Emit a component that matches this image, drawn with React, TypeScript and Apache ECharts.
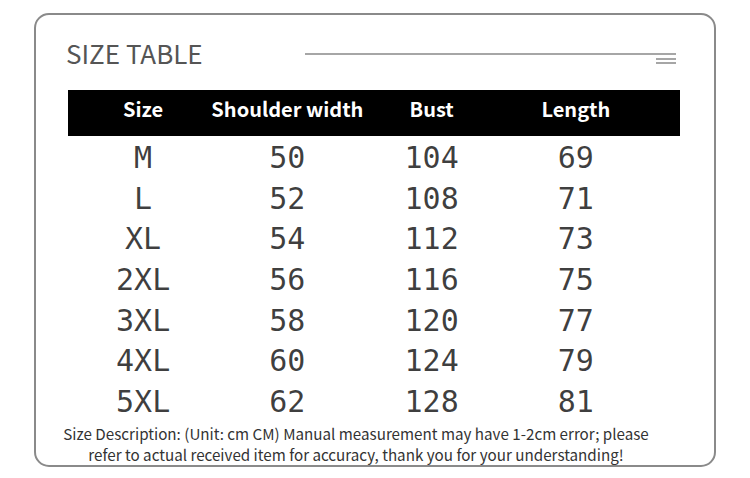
import React, { useEffect, useRef } from "react";
import * as echarts from "echarts";

const columns = ["Size", "Shoulder width", "Bust", "Length"];
const sizes = ["M", "L", "XL", "2XL", "3XL", "4XL", "5XL"];
const shoulder = [50, 52, 54, 56, 58, 60, 62];
const bust = [104, 108, 112, 116, 120, 124, 128];
const length = [69, 71, 73, 75, 77, 79, 81];
const title = "SIZE TABLE";
const note1 = "Size Description: (Unit: cm CM) Manual measurement may have 1-2cm error; please";
const note2 = "refer to actual received item for accuracy, thank you for your understanding!";

const CJK = '"Noto Sans CJK SC", "Noto Sans", sans-serif';
const MONO = '"DejaVu Sans Mono", monospace';

export default function App() {
  const ref = useRef<HTMLDivElement>(null);
  useEffect(() => {
    document.body.style.margin = "0";
    if (!ref.current) return;
    const chart = echarts.init(ref.current, undefined, { renderer: "svg" });
    const cols = [sizes, shoulder, bust, length];
    const data: any[] = [];
    sizes.forEach((_, r) => {
      cols.forEach((col, c) => {
        data.push([c, r, String(col[r])]);
      });
    });
    chart.setOption({
      animation: false,
      backgroundColor: "#ffffff",
      grid: { left: 71, right: 102, top: 137, bottom: 56 },
      xAxis: {
        type: "category",
        data: columns,
        position: "top",
        z: 10,
        axisLine: { show: false },
        axisTick: { show: false },
        splitLine: { show: false },
        axisLabel: {
          color: "#ffffff",
          fontFamily: CJK,
          fontWeight: "bold",
          fontSize: 20,
          margin: 29,
          verticalAlign: "middle",
          interval: 0,
        },
      },
      yAxis: {
        type: "category",
        data: sizes,
        inverse: true,
        show: false,
      },
      series: [
        {
          type: "scatter",
          symbolSize: 0,
          data,
          label: {
            show: true,
            position: "inside",
            formatter: (p: any) => p.value[2],
            color: "#0a0a0a",
            fontFamily: MONO,
            fontSize: 30,
          },
          silent: true,
        },
      ],
      graphic: [
        {
          type: "rect",
          z: -10,
          shape: { x: 35, y: 14, width: 680, height: 452, r: 14 },
          style: { fill: "#ffffff", stroke: "#8a8a8a", lineWidth: 2 },
        },
        {
          type: "rect",
          z: -5,
          shape: { x: 68, y: 90, width: 612, height: 46 },
          style: { fill: "#000000" },
        },
        {
          type: "text",
          x: 66,
          y: 52,
          style: {
            text: title,
            fill: "#555555",
            font: `26px ${CJK}`,
            verticalAlign: "middle",
          },
        },
        {
          type: "line",
          shape: { x1: 305, y1: 54, x2: 676, y2: 54 },
          style: { stroke: "#888888", lineWidth: 1.5 },
        },
        {
          type: "line",
          shape: { x1: 656, y1: 59, x2: 676, y2: 59 },
          style: { stroke: "#888888", lineWidth: 1.5 },
        },
        {
          type: "line",
          shape: { x1: 656, y1: 63, x2: 676, y2: 63 },
          style: { stroke: "#888888", lineWidth: 1.5 },
        },
        {
          type: "text",
          x: 356,
          y: 433,
          style: {
            text: note1,
            fill: "#333333",
            font: `15.2px ${CJK}`,
            align: "center",
            verticalAlign: "middle",
          },
        },
        {
          type: "text",
          x: 356,
          y: 454,
          style: {
            text: note2,
            fill: "#333333",
            font: `15.2px ${CJK}`,
            align: "center",
            verticalAlign: "middle",
          },
        },
      ],
    });
    return () => chart.dispose();
  }, []);
  return <div ref={ref} style={{ width: 750, height: 478 }} />;
}
